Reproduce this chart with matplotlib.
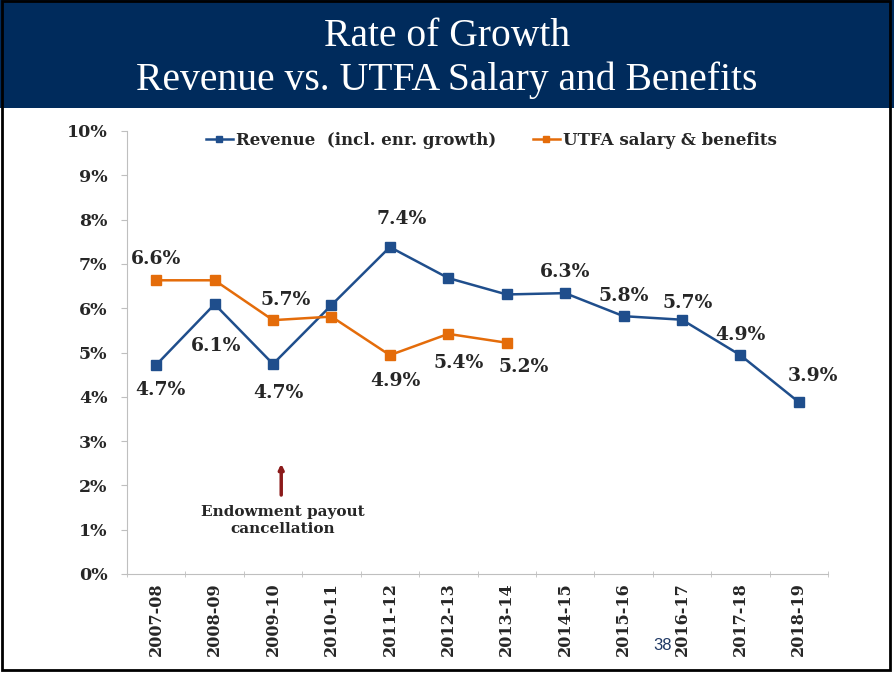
import numpy as np
import matplotlib.pyplot as plt
from matplotlib.patches import Rectangle

# data
years = ["2007-08", "2008-09", "2009-10", "2010-11", "2011-12", "2012-13",
         "2013-14", "2014-15", "2015-16", "2016-17", "2017-18", "2018-19"]
revenue = [4.72, 6.09, 4.74, 6.07, 7.38, 6.68, 6.31, 6.34, 5.82, 5.74, 4.94, 3.88]
utfa = [6.63, 6.63, 5.73, 5.81, 4.94, 5.42, 5.22]

# which points get a label, and where (pixel offset from the marker)
rev_labels = {0: (4, -25), 1: (2, -42), 2: (5, -29), 4: (12, 28), 7: (0, 21),
              8: (0, 20), 9: (6, 17), 10: (0, 20), 11: (14, 26)}
utfa_labels = {0: (0, 21), 2: (13, 20), 4: (6, -26), 5: (10, -29), 6: (17, -24)}

navy = "#1F4E8C"
orange = "#E46C0A"
serif = "DejaVu Serif"
txt = "#262626"

fig = plt.figure(figsize=(8.94, 6.73), dpi=100)

# slide header
fig.patches.append(Rectangle((0, 1 - 108 / 673), 1, 108 / 673, transform=fig.transFigure,
                             facecolor="#002B5C", edgecolor="none", zorder=0))
fig.text(0.5, 1 - 36 / 673, "Rate of Growth", ha="center", va="center",
         color="white", fontsize=28.5, family="Liberation Serif")
fig.text(0.5, 1 - 80 / 673, "Revenue vs. UTFA Salary and Benefits", ha="center",
         va="center", color="white", fontsize=28.5, family="Liberation Serif")
# border
fig.patches.append(Rectangle((0.002, 0.004), 0.994, 0.994, transform=fig.transFigure,
                             facecolor="none", edgecolor="black", lw=2, zorder=5))

ax = fig.add_axes([127 / 894, 1 - 574 / 673, 701 / 894, 443 / 673])
x = np.arange(len(years))

ax.plot(x, revenue, color=navy, lw=1.8, marker="s", ms=7, label="Revenue  (incl. enr. growth)")
ax.plot(x[:len(utfa)], utfa, color=orange, lw=1.8, marker="s", ms=7,
        markeredgecolor=orange, label="UTFA salary & benefits")

for i, (dx, dy) in rev_labels.items():
    ax.annotate(f"{revenue[i]:.1f}%", (x[i], revenue[i]), xytext=(dx, dy),
                textcoords="offset pixels", ha="center", va="center",
                fontsize=13.5, fontweight="bold", family=serif, color=txt)
for i, (dx, dy) in utfa_labels.items():
    ax.annotate(f"{utfa[i]:.1f}%", (x[i], utfa[i]), xytext=(dx, dy),
                textcoords="offset pixels", ha="center", va="center",
                fontsize=13.5, fontweight="bold", family=serif, color=txt)

# endowment note
ax.annotate("", xy=(2.14, 2.55), xytext=(2.14, 1.72),
            arrowprops=dict(arrowstyle="-|>", color="#8B1A1A", lw=2.5,
                            mutation_scale=7))
ax.text(2.17, 1.2, "Endowment payout\ncancellation", ha="center", va="center",
        fontsize=11, fontweight="bold", family=serif, color=txt,
        linespacing=1.3)

ax.set_xlim(-0.5, len(years) - 0.5)
ax.set_ylim(0, 10)
ax.set_yticks(np.arange(0, 11, 1))
ax.set_yticklabels([f"{v}%" for v in range(11)], fontsize=12.5,
                   fontweight="bold", family=serif, color=txt)
ax.set_xticks(x)
ax.set_xticklabels(years, rotation=90, fontsize=11.5, fontweight="bold",
                   family=serif, color=txt)
ax.set_xticks(np.arange(-0.5, len(years), 1), minor=True)
ax.tick_params(axis="x", which="major", length=0, pad=6)
ax.tick_params(axis="x", which="minor", length=5, direction="inout", color="#BFBFBF")
ax.tick_params(axis="y", length=4, color="#BFBFBF", pad=10)

for s in ["top", "right"]:
    ax.spines[s].set_visible(False)
for s in ["left", "bottom"]:
    ax.spines[s].set_color("#BFBFBF")

leg = ax.legend(loc="upper center", bbox_to_anchor=(0.52, 1.032), ncol=2, frameon=False,
                prop={"family": serif, "weight": "bold", "size": 12},
                handlelength=1.6, handletextpad=0.2, columnspacing=2.2, markerscale=0.7)
for t in leg.get_texts():
    t.set_color(txt)

fig.text(663 / 894, 1 - 645 / 673, "38", ha="center", va="center", color="#1F3864",
         fontsize=12, family="Liberation Sans")

fig.savefig("out.png", dpi=100)
